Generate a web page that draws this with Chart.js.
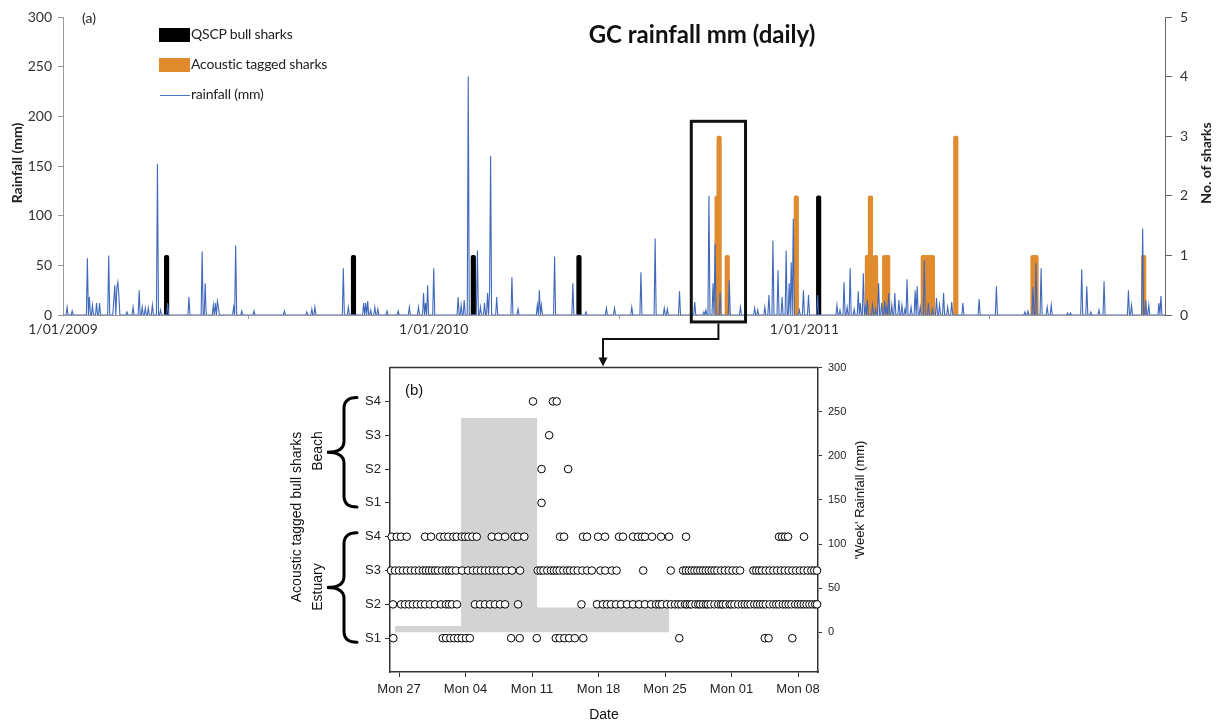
<!DOCTYPE html>
<html><head><meta charset="utf-8">
<script src="https://cdn.jsdelivr.net/npm/chart.js@4.4.1/dist/chart.umd.min.js"></script>
<style>
html,body{margin:0;padding:0;background:#fff;width:1220px;height:721px;overflow:hidden;position:relative;font-family:Lato,sans-serif}
canvas{position:absolute}
#top{left:0;top:0}
#bot{left:270px;top:355px}
.t{position:absolute;white-space:nowrap;line-height:1}
.c{transform:translate(-50%,-50%)}
.rot{transform:translate(-50%,-50%) rotate(-90deg)}
.ar{font-family:"Liberation Sans",Arial,sans-serif}
</style></head><body>
<canvas id="top" width="1220" height="345"></canvas>
<canvas id="bot" width="600" height="366"></canvas>
<svg id="ann" width="1220" height="721" style="position:absolute;left:0;top:0;pointer-events:none"></svg>

<div class="t" style="left:82px;top:11px;font-size:14px;color:#222">(a)</div>
<div class="t c" style="left:702px;top:34px;font-size:24px;font-weight:700;color:#111">GC rainfall mm (daily)</div>
<div class="t" style="left:159px;top:28px;width:31px;height:14px;background:#000"></div>
<div class="t" style="left:191px;top:27px;font-size:14px;color:#222;letter-spacing:-0.2px">QSCP bull sharks</div>
<div class="t" style="left:159px;top:58px;width:31px;height:14px;background:#E08B2E"></div>
<div class="t" style="left:191px;top:57px;font-size:14px;color:#222;letter-spacing:-0.2px">Acoustic tagged sharks</div>
<div class="t" style="left:160px;top:95px;width:30px;height:1px;background:#4A72C0"></div>
<div class="t" style="left:191px;top:87px;font-size:14px;color:#222;letter-spacing:-0.2px">rainfall (mm)</div>
<div class="t rot" style="left:17px;top:163px;font-size:14px;font-weight:700;color:#222">Rainfall (mm)</div>
<div class="t rot" style="left:1206px;top:163px;font-size:14px;font-weight:700;color:#222">No. of sharks</div>

<div class="t ar" style="left:405px;top:382px;font-size:15px;color:#111">(b)</div>
<div class="t c ar" style="left:604px;top:714px;font-size:14px;color:#111">Date</div>
<div class="t rot ar" style="left:859px;top:500px;font-size:13px;color:#111">'Week' Rainfall (mm)</div>
<div class="t rot ar" style="left:296px;top:517px;font-size:14px;color:#111">Acoustic tagged bull sharks</div>
<div class="t rot ar" style="left:317px;top:451px;font-size:14px;color:#111">Beach</div>
<div class="t rot ar" style="left:317px;top:587px;font-size:14px;color:#111">Estuary</div>

<script>
// ---------- (a) daily rainfall, days since 1 Jan 2009 ----------
const yearTicks = [0, 365, 730];
const yearLabels = ['1/01/2009', '1/01/2010', '1/01/2011'];
const rainDay = [4,9,24,26,29,33,36,45,50,51,53,54,55,63,69,75,78,81,84,88,93,96,103,124,137,140,148,150,152,153,168,170,176,188,218,240,245,248,276,281,296,298,300,303,307,310,319,330,341,350,355,357,359,365,389,392,395,399,408,411,415,418,420,421,427,442,448,467,469,471,484,502,515,535,543,560,569,583,592,595,607,622,631,633,636,640,642,647,656,667,681,684,691,695,699,704,708,712,715,717,719,725,729,734,743,762,765,769,772,775,779,783,785,788,790,792,797,800,803,806,809,811,813,816,819,823,826,829,831,835,839,841,844,848,852,856,860,863,867,871,875,886,902,919,947,950,955,958,963,969,973,989,992,1003,1008,1012,1020,1025,1049,1052,1063,1066,1069,1079,1081];
const rainMm  = [8,4,57,18,10,12,12,60,15,30,27,33,20,3,8,25,8,7,7,10,152,5,12,18,64,32,10,12,14,8,8,70,4,4,4,3,6,8,47,8,12,12,14,5,8,6,4,4,8,8,22,12,30,47,18,10,15,240,65,8,12,22,25,160,18,38,6,10,25,10,59,32,3,7,7,8,43,77,7,6,24,13,3,5,120,32,72,23,35,8,7,5,8,20,75,45,18,65,32,53,97,5,25,20,20,10,5,33,8,47,6,24,12,42,8,15,10,6,32,12,14,8,22,10,22,15,10,6,36,8,25,29,8,55,12,6,17,10,22,8,13,12,16,29,3,4,28,52,47,8,10,2,2,46,29,3,5,34,25,10,87,15,10,12,19];
const lastDay = 1085;
const qscpDay = [102, 286, 404, 508, 744];
const qscpN   = [1, 1, 1, 1, 2];
const tagDay = [644,646,654,722,792,795,800,809,812,847,850,853,856,879,955,958,1064];
const tagN   = [2,3,1,2,1,2,1,1,1,1,1,1,1,3,1,1,1];
const boxDays = [618.6, 672];
const boxMm = [195, -7];

// ---------- (b) detections, days since Mon 27 Sep 2010 ----------
const weekTicks = [0, 7, 14, 21, 28, 35, 42];
const weekLabels = ['Mon 27','Mon 04','Mon 11','Mon 18','Mon 25','Mon 01','Mon 08'];
const rowTicks = [1,2,3,4,5,6,7,8];
const rowLabels = ['S1','S2','S3','S4','S1','S2','S3','S4'];
const estS1 = [-0.6,4.6,4.95,5.4,5.8,6.2,6.6,7.05,7.45,11.8,12.7,14.5,16.5,16.9,17.4,17.9,18.5,19.4,29.5,38.5,38.9,41.4];
const estS2 = [-0.63,0.21,0.63,1.05,1.47,1.89,2.32,2.74,3.26,3.79,4.42,4.95,5.26,5.58,6.1,8.0,8.53,9.05,9.58,10.1,10.63,11.16,12.53,19.2,20.84,21.47,21.89,22.32,22.84,23.37,24.0,24.63,25.26,25.89,26.53,27.05,27.37,27.68,28.21,28.63,29.05,29.4,29.7,30.1,30.3,30.6,30.8,31.2,31.5,31.7,32.0,32.3,32.5,32.8,33.2,33.6,33.9,34.1,34.4,34.8,35.0,35.3,35.7,36.1,36.4,36.7,37.0,37.4,37.7,38.0,38.3,38.6,39.0,39.4,39.7,40.0,40.4,40.7,41.0,41.3,41.7,42.0,42.3,42.6,42.9,43.2,43.5,43.8,44.0];
const estS3 = [-0.84,-0.42,0,0.42,0.84,1.26,1.68,2.1,2.53,2.84,3.16,3.47,3.79,4.1,4.53,4.95,5.26,5.58,6.0,6.63,7.26,7.79,8.21,8.63,9.05,9.47,9.89,10.32,10.74,11.26,11.89,12.74,14.6,14.9,15.2,15.6,16.0,16.3,16.6,16.9,17.3,17.7,18.0,18.4,18.8,19.3,19.8,20.3,21.2,21.7,22.4,22.9,25.7,28.6,29.9,30.2,30.5,30.8,31.1,31.4,31.7,32.0,32.3,32.6,32.9,33.2,33.5,33.9,34.3,34.7,35.1,35.5,35.9,37.3,37.6,37.9,38.2,38.6,39.0,39.4,39.8,40.2,40.6,41.0,41.4,41.8,42.2,42.6,43.0,43.4,43.7,44.0];
const estS4 = [-0.77,-0.24,0.21,0.81,2.74,3.37,4.32,4.77,5.19,5.72,6.07,6.6,6.95,7.3,7.72,8.18,9.76,10.45,11.16,12.14,12.5,13.19,16.95,17.37,19.37,19.79,20.95,21.68,23.16,23.58,24.63,25.16,25.58,25.89,26.63,27.58,28.42,30.21,40.0,40.32,40.63,40.95,42.63];
const beachS1 = [15.0];
const beachS2 = [15.0, 17.8];
const beachS3 = [15.8];
const beachS4 = [14.1, 16.2, 16.6];
const weekStart = [-0.42, 6.53, 14.53, 20.5, 28.42];
const weekRain  = [7, 243, 28, 37, 37];

// ---------- build (a) ----------
const rainMap = {};
rainDay.forEach((d, i) => { rainMap[d] = rainMm[i]; });
const daily = [];
for (let d = 0; d <= lastDay; d++) daily.push({x: d, y: rainMap[d] || 0});

const zoomBox = {
  id: 'zoomBox',
  afterDraw(c) {
    const {ctx, scales: {x, y}} = c;
    const x0 = x.getPixelForValue(boxDays[0]), x1 = x.getPixelForValue(boxDays[1]);
    const y0 = y.getPixelForValue(boxMm[0]), y1 = y.getPixelForValue(boxMm[1]);
    ctx.save(); ctx.lineWidth = 3; ctx.strokeStyle = '#111';
    ctx.strokeRect(x0, y0, x1 - x0, y1 - y0); ctx.restore();
  }
};

const fa = {family: 'Lato, sans-serif', size: 14};
const topChart = new Chart(document.getElementById('top'), {
  type: 'line',
  data: {
    datasets: [
      {type: 'line', label: 'rainfall (mm)', data: daily, yAxisID: 'y', borderColor: '#4069BC', borderWidth: 1.1, pointRadius: 0, tension: 0, fill: false, order: 0},
      {type: 'bar', label: 'QSCP bull sharks', data: qscpDay.map((d, i) => ({x: d, y: qscpN[i]})), yAxisID: 'y2', backgroundColor: '#000', barThickness: 4.5, grouped: false, borderRadius: 2, borderSkipped: 'bottom', order: 1},
      {type: 'bar', label: 'Acoustic tagged sharks', data: tagDay.map((d, i) => ({x: d, y: tagN[i]})), yAxisID: 'y2', backgroundColor: '#E08B2E', barThickness: 4.5, grouped: false, borderRadius: 2, borderSkipped: 'bottom', order: 1}
    ]
  },
  options: {
    responsive: false, animation: false, devicePixelRatio: 1,
    layout: {padding: {top: 17, left: 0, right: 0, bottom: 0}},
    plugins: {legend: {display: false}, tooltip: {enabled: false}},
    scales: {
      x: {type: 'linear', min: 0, max: lastDay, offset: false,
        afterFit: s => { s.height = 30; },
        afterBuildTicks: s => { s.ticks = yearTicks.map(v => ({value: v})); },
        ticks: {autoSkip: false, maxRotation: 0, padding: 2, color: '#333', font: fa,
          callback: v => yearLabels[yearTicks.indexOf(v)]},
        grid: {drawOnChartArea: false, tickLength: 4, color: '#999'},
        border: {display: true, color: '#999', width: 1}},
      y: {position: 'left', min: 0, max: 300,
        afterFit: s => { s.width = 63; },
        ticks: {stepSize: 50, padding: 6, color: '#333', font: fa},
        grid: {drawOnChartArea: false, tickLength: 5, color: '#999'},
        border: {display: true, color: '#999', width: 1}},
      y2: {position: 'right', min: 0, max: 5,
        afterFit: s => { s.width = 55; },
        ticks: {stepSize: 1, padding: 8, color: '#333', font: fa},
        grid: {drawOnChartArea: false, tickLength: 7, color: '#666'},
        border: {display: true, color: '#666', width: 1}}
    }
  },
  plugins: [zoomBox]
});

// ---------- build (b) ----------
const rows = [estS1, estS2, estS3, estS4, beachS1, beachS2, beachS3, beachS4];
const frame = {
  id: 'frame',
  afterDraw(c) {
    const {ctx, chartArea: a} = c;
    ctx.save(); ctx.strokeStyle = '#333'; ctx.lineWidth = 1.5;
    ctx.beginPath(); ctx.moveTo(a.left, a.top); ctx.lineTo(a.right, a.top); ctx.stroke(); ctx.restore();
  }
};
const fb = {family: '"Liberation Sans", Arial, sans-serif', size: 13};
const botDatasets = rows.map((r, i) => ({
  type: 'scatter', data: r.map(d => ({x: d, y: rowTicks[i]})), yAxisID: 'y',
  pointStyle: 'circle', pointRadius: 3.8, borderWidth: 1, borderColor: '#000', backgroundColor: '#fff', clip: 6, order: 0
}));
botDatasets.push({
  type: 'line', data: weekStart.map((d, i) => ({x: d, y: weekRain[i]})), yAxisID: 'yr',
  stepped: true, fill: 'origin', backgroundColor: '#D3D3D3', borderWidth: 0, borderColor: 'rgba(0,0,0,0)', pointRadius: 0, order: 10
});
const botChart = new Chart(document.getElementById('bot'), {
  type: 'scatter',
  data: {datasets: botDatasets},
  options: {
    responsive: false, animation: false, devicePixelRatio: 1,
    layout: {padding: {top: 12, left: 0, right: 0, bottom: 0}},
    plugins: {legend: {display: false}, tooltip: {enabled: false}},
    scales: {
      x: {type: 'linear', min: -0.95, max: 44.1,
        afterFit: s => { s.height = 49; },
        afterBuildTicks: s => { s.ticks = weekTicks.map(v => ({value: v})); },
        ticks: {autoSkip: false, maxRotation: 0, padding: 5, color: '#222', font: fb,
          callback: v => weekLabels[weekTicks.indexOf(v)]},
        grid: {drawOnChartArea: false, tickLength: 5, color: '#333'},
        border: {display: true, color: '#333', width: 1.5}},
      y: {position: 'left', min: 0, max: 9,
        afterFit: s => { s.width = 120; },
        afterBuildTicks: s => { s.ticks = rowTicks.map(v => ({value: v})); },
        ticks: {autoSkip: false, padding: 4, color: '#222', font: fb,
          callback: v => rowLabels[rowTicks.indexOf(v)]},
        grid: {drawOnChartArea: false, tickLength: 5, color: '#333'},
        border: {display: true, color: '#333', width: 1.5}},
      yr: {position: 'right', min: -45, max: 300,
        afterFit: s => { s.width = 52; },
        afterBuildTicks: s => { s.ticks = [0, 50, 100, 150, 200, 250, 300].map(v => ({value: v})); },
        ticks: {autoSkip: false, padding: 6, color: '#222', font: {family: fb.family, size: 11}},
        grid: {drawOnChartArea: false, tickLength: 4, color: '#333'},
        border: {display: true, color: '#333', width: 1.5}}
    }
  },
  plugins: [frame]
});

// ---------- annotations: connector arrow and braces ----------
const svg = document.getElementById('ann');
const NS = 'http://www.w3.org/2000/svg';
function add(tag, attrs) { const e = document.createElementNS(NS, tag); for (const k in attrs) e.setAttribute(k, attrs[k]); svg.appendChild(e); return e; }
const tx = topChart.scales.x, ty = topChart.scales.y;
const cx = (tx.getPixelForValue(boxDays[0]) + tx.getPixelForValue(boxDays[1])) / 2;
const cy = ty.getPixelForValue(boxMm[1]) + 1.5;
const arrowX = 603, midY = 339, botTop = 355 + botChart.chartArea.top;
add('path', {d: `M${cx} ${cy} L${cx} ${midY} L${arrowX} ${midY} L${arrowX} ${botTop - 8}`, fill: 'none', stroke: '#111', 'stroke-width': 2});
add('polygon', {points: `${arrowX - 4.5},${botTop - 10} ${arrowX + 4.5},${botTop - 10} ${arrowX},${botTop - 1}`, fill: '#111'});

const by = botChart.scales.y;
function brace(yTop, yBot) {
  const xr = 357, xs = 344, xt = 327, r = 11, ym = (yTop + yBot) / 2;
  const d = `M${xr} ${yTop} Q${xs} ${yTop} ${xs} ${yTop + r} L${xs} ${ym - r} Q${xs} ${ym} ${xt} ${ym} Q${xs} ${ym} ${xs} ${ym + r} L${xs} ${yBot - r} Q${xs} ${yBot} ${xr} ${yBot}`;
  add('path', {d, fill: 'none', stroke: '#000', 'stroke-width': 3, 'stroke-linecap': 'round'});
}
brace(355 + by.getPixelForValue(8) - 4, 355 + by.getPixelForValue(5) + 4);
brace(355 + by.getPixelForValue(4) - 4, 355 + by.getPixelForValue(1) + 4);
</script>
</body></html>
